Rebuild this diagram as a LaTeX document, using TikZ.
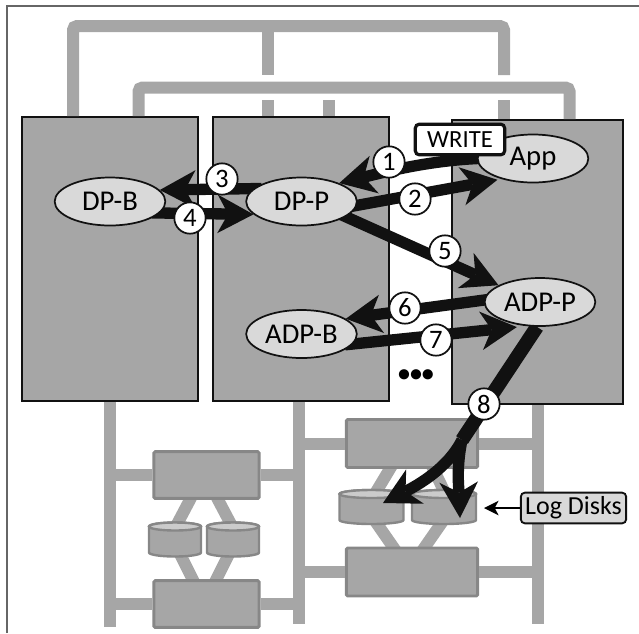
\documentclass[tikz,border=0pt]{standalone}
\usepackage{fontspec}
\setmainfont{Carlito}
\usetikzlibrary{
  arrows.meta,
  shapes.geometric,
  backgrounds
}
\definecolor{blade}{HTML}{A6A6A6}
\definecolor{rim}{HTML}{878787}
\definecolor{oval}{HTML}{D9D9D9}
\definecolor{lid}{HTML}{CBCBCB}
\definecolor{ink}{HTML}{111111}
\definecolor{frameline}{HTML}{666666}

\begin{document}
\begin{tikzpicture}[
  x=0.75pt, y=-0.75pt,
  bus/.style={draw=blade, line width=9pt, rounded corners=3pt},
  server/.style={draw=ink, fill=blade, line width=1.4pt, minimum width=132pt, minimum height=213pt},
  storage/.style={draw=rim, fill=blade, line width=2.2pt, rounded corners=1pt},
  pics/disk/.style={code={
    \draw[rim, fill=blade, line width=1.8pt] (-#1,-13) -- (-#1,13) arc[start angle=180, end angle=0, x radius=#1, y radius=4]
      -- (#1,-13) arc[start angle=0, end angle=-180, x radius=#1, y radius=4] -- cycle;
    \draw[rim, fill=lid, line width=1.8pt] (0,-13) ellipse[x radius=#1, y radius=4];
    \coordinate (-east) at (#1,0);
  }},
  proc/.style={ellipse, draw=ink, fill=oval, line width=1.3pt, inner sep=0pt,
               minimum width=83pt, minimum height=36pt, font=\fontsize{21.5}{24}\selectfont},
  flow/.style={draw=ink, line width=8.5pt, shorten <=-6pt,
               -{Stealth[length=27pt, width=29pt, inset=8pt, line width=0pt]}},
  num/.style={circle, draw=ink, fill=white, line width=1.3pt, inner sep=0pt,
              minimum size=23.5pt, font=\fontsize{20}{22}\selectfont},
  tag/.style={draw=ink, rounded corners=3pt, inner sep=0pt, font=\fontsize{19.5}{22}\selectfont}
]
  \useasboundingbox (0,0) rectangle (639,633);
  \draw[frameline, line width=1.5pt] (6.5,633) -- (6.5,6) -- (639,6);

  \node[proc] (dpb) at (110,201.5) {DP-B};
  \node[proc] (dpp) at (301.5,201.5) {DP-P};
  \node[proc] (app) at (533,158.5) {App};
  \node[proc] (adpp) at (540,302) {ADP-P};
  \node[proc] (adpb) at (301.5,334) {ADP-B};

  \coordinate (busa) at (73,26);
  \coordinate (busb) at (267.5,26);
  \coordinate (busc) at (504,26);
  \coordinate (busd) at (138.5,87.5);
  \coordinate (buse) at (569.5,87.5);
  \coordinate (busf) at (329,100);
  \coordinate (legl) at (110,627);
  \coordinate (legm) at (299,624);
  \coordinate (legr) at (537.5,624);
  \coordinate (tiplog) at (383,503);
  \coordinate (tipright) at (460,518);
  \coordinate (split) at (462,440);

  \begin{scope}[on background layer]
    \node[server] (boxa) at (110,259) {};
    \node[server] (boxb) at (301,259) {};
    \node[server, minimum width=128pt] (boxc) at (537.5,262) {};

    \draw[bus] (boxa.north -| busa) -- (busa) -- (busc) -- (busc |- 0,75);
    \draw[bus] (busb) -- (busb |- 0,75);
    \draw[bus] (boxa.north -| busd) -- (busd) -- (buse) -- (boxc.north -| buse);
    \draw[bus] (boxb.north -| busb) -- (busb |- busf);
    \draw[bus] (boxb.north -| busf) -- (busf);
    \draw[bus] (boxc.north -| busc) -- (busc |- busf);

    \draw[bus] (boxa.south -| legl) -- (legl);
    \draw[bus] (boxb.south -| legm) -- (legm);
    \draw[bus] (boxc.south -| legr) -- (legr);

    \draw[bus] (193,494) -- (174,530);
    \draw[bus] (215,494) -- (234,530);
    \draw[bus] (178,550) -- (196,586);
    \draw[bus] (231,550) -- (213,586);
    \draw[bus] (394,462) -- (373,497);
    \draw[bus] (430,462) -- (447,497);
    \draw[bus] (373,518) -- (398,554);
    \draw[bus] (445,518) -- (420,554);

    \node[storage, minimum width=79pt, minimum height=35pt] (stra) at (206.5,475) {};
    \node[storage, minimum width=79pt, minimum height=35pt] (strb) at (206.5,604) {};
    \node[storage, minimum width=98.5pt, minimum height=36pt] (strc) at (412,443.5) {};
    \node[storage, minimum width=98.5pt, minimum height=36pt] (strd) at (412,572) {};

    \draw[bus] (stra.west) -- (stra.west -| legl);
    \draw[bus] (stra.east) -- (stra.east -| legm);
    \draw[bus] (strb.west) -- (strb.west -| legl);
    \draw[bus] (strb.east) -- (strb.east -| legm);
    \draw[bus] (strc.west) -- (strc.west -| legm);
    \draw[bus] (strc.east) -- (strc.east -| legr);
    \draw[bus] (strd.west) -- (strd.west -| legm);
    \draw[bus] (strd.east) -- (strd.east -| legr);

    \pic (diska) at (175,539.5) {disk=26};
    \pic (diskb) at (233,539.5) {disk=26};
    \pic (diskc) at (371.5,507) {disk=32};
    \pic (diskd) at (444,507) {disk=32};

    \draw[flow] (app.180) .. controls (430,160) and (385,172) .. (dpp.26);
    \draw[flow, shorten >=3pt] (dpp.-4) -- (app.213);
    \draw[flow] (dpp.165) -- (dpb.13);
    \draw[flow] (dpb.-13) -- (dpp.195);
    \draw[flow] (dpp.-19) -- (adpp.158);
    \draw[flow] (adpp.178) -- (adpb.19);
    \draw[flow, shorten >=7pt] (adpb.-11) -- (adpp.240);
    \draw[draw=ink, line width=10.5pt] (adpp.-97) -- (split);
    \draw[flow, shorten <=0pt] (split) .. controls (448,468) and (418,485) .. (tiplog);
    \draw[flow, shorten <=0pt] (split) .. controls (456,468) and (459,490) .. (tipright);
  \end{scope}

  \node[num] (na) at (389,162) {1};
  \node[num] (nb) at (415,199) {2};
  \node[num] (nc) at (222,179) {3};
  \node[num] (nd) at (190,218) {4};
  \node[num] (ne) at (445,251) {5};
  \node[num] (nf) at (405,308) {6};
  \node[num] (ng) at (436,340) {7};
  \node[num] (nh) at (484,404) {8};

  \node[tag, fill=white, line width=2.4pt, minimum width=67pt, minimum height=23pt,
        font=\fontsize{18.5}{21}\selectfont] (write) at (460,139.5) {WRITE};
  \node[tag, fill=oval, line width=1.4pt, minimum width=79pt, minimum height=23pt] (logdisks) at (573.5,508) {Log Disks};
  \draw[line width=1.2pt, shorten >=6pt, -{Stealth[length=11pt, width=11pt, inset=3pt, line width=0pt]}] (logdisks.west) -- (logdisks.west -| diskd-east);

  \node[font=\bfseries\fontsize{18}{20}\selectfont] (dots) at (416,376) {\textbullet\textbullet\textbullet};
\end{tikzpicture}
\end{document}
